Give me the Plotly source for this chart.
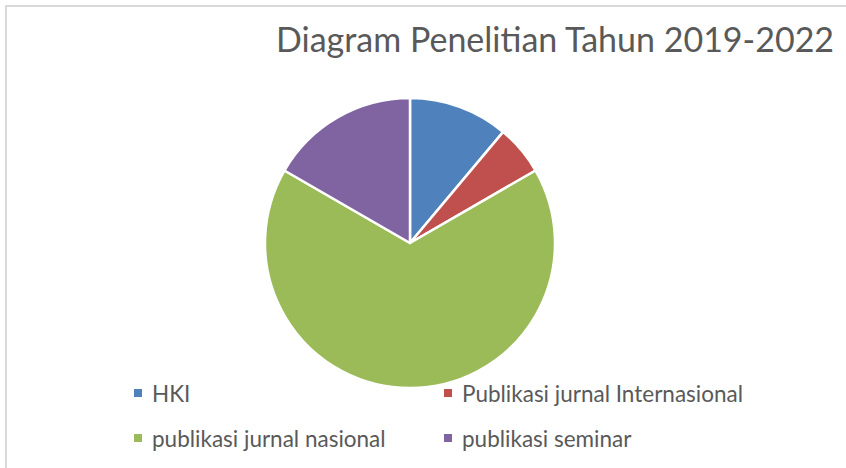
import plotly.graph_objects as go

labels = ["HKI", "Publikasi jurnal Internasional", "publikasi jurnal nasional", "publikasi seminar"]
values = [2, 1, 12, 3]
colors = ["#4F81BD", "#C0504D", "#9BBB59", "#8064A2"]
title = "Diagram Penelitian Tahun 2019-2022"

W, H = 846, 468


def px(x):
    return x / W


def py(y):
    return 1 - y / H


fig = go.Figure()

fig.add_trace(go.Pie(
    labels=labels, values=values, sort=False, direction="clockwise", rotation=0,
    marker=dict(colors=colors, line=dict(color="white", width=2.5)),
    textinfo="none", hoverinfo="label+value+percent", showlegend=False,
    domain=dict(x=[px(410 - 145), px(410 + 145)], y=[py(388), py(98)]),
))

# legend: squares + text, 2 columns
leg_x = [138, 448]
leg_y = [393, 438]
for i, lab in enumerate(labels):
    cx = leg_x[i % 2]
    cy = leg_y[i // 2]
    fig.add_shape(type="rect", xref="paper", yref="paper",
                  x0=px(cx - 4), x1=px(cx + 4), y0=py(cy + 4), y1=py(cy - 4),
                  fillcolor=colors[i], line=dict(width=0))
    fig.add_annotation(text=lab, xref="paper", yref="paper", x=px(cx + 12), y=py(cy),
                       xanchor="left", yanchor="middle", showarrow=False,
                       font=dict(family="Lato", size=22.5, color="#595959"))

fig.add_annotation(text=title, xref="paper", yref="paper", x=px(836), y=py(38),
                   xanchor="right", yanchor="middle", showarrow=False,
                   font=dict(family="Lato", size=34, color="#595959"))

# chart frame (only top and left edges visible)
fig.add_shape(type="rect", xref="paper", yref="paper", x0=px(6), x1=1.2, y0=-0.2, y1=py(6),
              line=dict(color="#D9D9D9", width=2), fillcolor="rgba(0,0,0,0)")

fig.update_layout(width=W, height=H, margin=dict(l=0, r=0, t=0, b=0),
                  paper_bgcolor="white", plot_bgcolor="white")
# drop the default page margin so the figure fills the window
fig.write_html("out.html", config={"displayModeBar": False},
               post_script="document.body.style.margin='0';")
